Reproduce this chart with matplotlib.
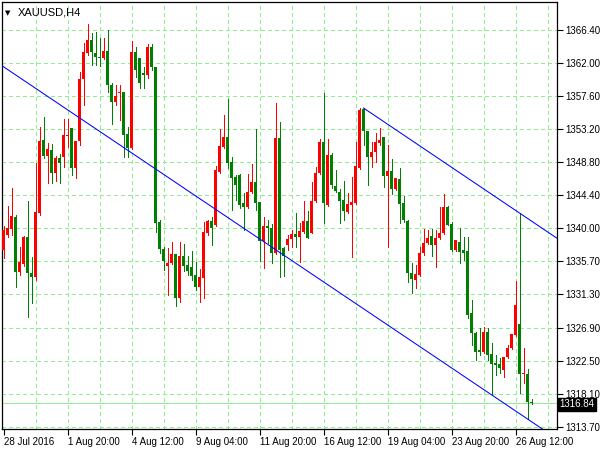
import numpy as np
import matplotlib
matplotlib.use("Agg")
import matplotlib.pyplot as plt
import matplotlib.transforms as mtransforms

symbol = "XAUUSD,H4"

# H4 candles, oldest first
opens = [1337.18, 1339.17, 1339.96, 1341.56, 1334.25, 1335.31, 1338.90, 1334.12, 1333.59, 1342.09,
         1351.79, 1349.66, 1350.46, 1347.40, 1349.40, 1349.53, 1352.32, 1353.38, 1348.07, 1351.65,
         1359.89, 1363.34, 1365.07, 1363.34, 1362.81, 1362.68, 1363.61, 1359.09, 1356.84, 1358.03,
         1358.16, 1352.58, 1350.72, 1363.48, 1362.68, 1360.69, 1360.42, 1364.14, 1361.48, 1340.89,
         1337.31, 1335.05, 1335.45, 1336.64, 1330.80, 1336.38, 1335.18, 1334.92, 1333.85, 1332.26,
         1333.46, 1339.43, 1341.02, 1340.48, 1347.54, 1350.86, 1352.19, 1348.86, 1346.87, 1347.14,
         1343.42, 1342.87, 1344.88, 1346.21, 1343.55, 1338.37, 1340.36, 1340.09, 1336.78, 1352.05,
         1337.44, 1337.84, 1338.63, 1339.30, 1338.90, 1339.56, 1341.02, 1339.43, 1343.68, 1347.40,
         1351.52, 1343.15, 1349.79, 1345.68, 1344.88, 1343.82, 1342.22, 1343.15, 1343.42, 1348.07,
         1355.90, 1352.98, 1349.53, 1350.19, 1351.39, 1352.19, 1347.00, 1347.67, 1345.28, 1346.61,
         1343.42, 1341.02, 1334.12, 1333.19, 1333.85, 1336.78, 1338.10, 1339.03, 1337.84, 1338.76,
         1339.43, 1342.87, 1340.63, 1337.18, 1338.23, 1337.18, 1337.04, 1328.81, 1326.15, 1323.89,
         1323.63, 1326.28, 1323.36, 1322.16, 1322.03, 1321.23, 1322.96, 1324.16, 1325.88, 1327.35,
         1320.70, 1320.70, 1316.98]
highs = [1340.36, 1343.02, 1345.41, 1341.82, 1337.57, 1339.03, 1343.68, 1336.24, 1348.73, 1353.51,
         1354.84, 1351.39, 1351.25, 1349.66, 1349.93, 1354.58, 1354.58, 1353.38, 1351.65, 1360.82,
         1364.67, 1367.20, 1366.00, 1366.13, 1365.34, 1365.34, 1366.40, 1359.36, 1359.09, 1359.09,
         1358.16, 1353.51, 1364.94, 1364.14, 1362.68, 1361.48, 1364.54, 1364.54, 1361.48, 1341.16,
         1337.57, 1337.44, 1338.23, 1336.64, 1338.23, 1337.97, 1336.38, 1337.04, 1335.58, 1334.65,
         1340.89, 1341.16, 1341.56, 1348.33, 1353.25, 1355.11, 1357.23, 1349.53, 1347.14, 1347.27,
         1344.75, 1347.27, 1348.60, 1353.25, 1343.55, 1341.56, 1341.16, 1340.63, 1356.70, 1354.18,
         1337.57, 1339.17, 1339.83, 1342.09, 1340.75, 1343.68, 1342.35, 1346.21, 1348.20, 1351.92,
         1358.03, 1351.92, 1350.06, 1347.80, 1345.28, 1346.34, 1344.75, 1346.87, 1351.52, 1356.04,
         1356.04, 1352.98, 1351.52, 1352.72, 1353.38, 1352.19, 1351.12, 1349.26, 1346.74, 1348.07,
         1344.35, 1341.16, 1335.45, 1335.18, 1337.57, 1339.96, 1339.83, 1339.96, 1339.83, 1342.87,
         1344.61, 1343.02, 1340.89, 1338.50, 1340.09, 1338.90, 1338.90, 1330.53, 1326.28, 1326.81,
         1326.95, 1326.81, 1324.82, 1323.23, 1322.83, 1322.96, 1324.55, 1326.00, 1333.06, 1342.09,
         1324.16, 1321.37, 1317.38]
lows = [1336.11, 1338.90, 1339.17, 1332.26, 1333.85, 1335.05, 1328.28, 1330.14, 1333.19, 1341.82,
        1349.40, 1346.08, 1346.08, 1346.34, 1346.08, 1348.20, 1350.86, 1347.14, 1346.74, 1351.12,
        1356.44, 1363.08, 1361.75, 1361.75, 1361.62, 1362.55, 1358.16, 1353.91, 1356.44, 1354.44,
        1349.53, 1349.53, 1350.59, 1360.16, 1358.70, 1358.70, 1360.02, 1361.09, 1339.56, 1336.78,
        1334.52, 1331.20, 1335.31, 1329.74, 1330.27, 1334.39, 1333.85, 1333.19, 1331.86, 1330.27,
        1330.80, 1339.17, 1337.84, 1340.36, 1347.40, 1350.72, 1348.07, 1342.49, 1343.82, 1342.75,
        1339.83, 1342.75, 1344.75, 1342.49, 1335.71, 1334.78, 1338.10, 1335.45, 1336.64, 1333.59,
        1333.72, 1337.18, 1337.57, 1337.57, 1335.58, 1339.43, 1338.76, 1339.43, 1343.55, 1347.27,
        1340.75, 1343.02, 1345.41, 1344.88, 1340.75, 1341.16, 1342.09, 1336.24, 1343.28, 1347.93,
        1351.12, 1345.81, 1348.20, 1348.86, 1351.12, 1345.54, 1337.57, 1344.61, 1345.15, 1340.75,
        1340.89, 1332.92, 1331.46, 1332.12, 1333.72, 1336.51, 1337.97, 1336.38, 1334.92, 1338.63,
        1339.30, 1340.48, 1337.04, 1337.04, 1335.45, 1335.85, 1328.14, 1324.55, 1322.56, 1323.23,
        1323.49, 1322.56, 1317.91, 1320.57, 1320.84, 1320.30, 1322.83, 1324.03, 1325.75, 1318.18,
        1319.51, 1314.73, 1316.72]
closes = [1339.83, 1340.09, 1341.68, 1334.25, 1335.58, 1338.90, 1334.12, 1333.59, 1342.22, 1351.65,
          1349.66, 1350.59, 1347.40, 1349.40, 1348.73, 1352.45, 1352.45, 1348.07, 1351.65, 1359.89,
          1363.48, 1365.07, 1363.48, 1362.81, 1362.68, 1363.61, 1359.09, 1356.84, 1357.63, 1358.16,
          1352.45, 1350.72, 1363.48, 1361.09, 1359.36, 1360.42, 1364.14, 1361.48, 1340.75, 1337.31,
          1335.71, 1335.45, 1336.64, 1330.80, 1336.38, 1335.05, 1334.39, 1333.72, 1332.26, 1333.59,
          1339.56, 1341.02, 1340.09, 1347.80, 1350.99, 1352.19, 1348.73, 1346.74, 1345.81, 1343.15,
          1342.87, 1344.88, 1346.21, 1343.42, 1338.37, 1340.36, 1340.09, 1336.78, 1352.05, 1337.18,
          1336.38, 1338.63, 1339.30, 1338.90, 1339.70, 1341.02, 1338.76, 1343.68, 1347.40, 1351.52,
          1343.42, 1349.79, 1345.81, 1345.01, 1343.68, 1342.35, 1343.28, 1343.55, 1348.33, 1355.77,
          1352.98, 1349.53, 1350.19, 1351.52, 1351.79, 1347.00, 1347.67, 1345.28, 1346.74, 1343.28,
          1341.16, 1334.12, 1333.32, 1333.99, 1336.78, 1338.10, 1338.76, 1337.84, 1338.76, 1339.43,
          1342.87, 1340.48, 1337.18, 1338.50, 1336.91, 1336.78, 1328.55, 1326.15, 1323.63, 1323.63,
          1326.28, 1323.23, 1322.03, 1321.90, 1321.50, 1322.96, 1324.16, 1326.00, 1329.87, 1320.70,
          1320.84, 1316.98, 1316.84]

last_price = 1316.84

price_labels = ["1366.40", "1362.00", "1357.60", "1353.20", "1348.80", "1344.40", "1340.00",
                "1335.70", "1331.30", "1326.90", "1322.50", "1318.10", "1313.70"]
date_labels = ["28 Jul 2016", "1 Aug 20:00", "4 Aug 12:00", "9 Aug 04:00", "11 Aug 20:00",
               "16 Aug 12:00", "19 Aug 04:00", "23 Aug 20:00", "26 Aug 12:00"]

# trend channel anchors: (bar index, price)
lower_line = [(0, 1361.52), (131, 1314.73)]
upper_line = [(90, 1356.04), (129, 1342.09)]

grid_col = "#90EE90"
px = 0.72  # one pixel at 100 dpi

fig = plt.figure(figsize=(6, 4.5), dpi=100)
ax = fig.add_axes([2 / 600, 21 / 450, 555 / 600, 427 / 450])

o = np.array(opens)
h = np.array(highs)
l = np.array(lows)
c = np.array(closes)
x = np.arange(len(o))
cols = np.where(c >= o, "#FF0000", "#008000")

# grid
ypos = np.linspace(float(price_labels[0]), float(price_labels[-1]), len(price_labels))
for yv in ypos:
    ax.axhline(yv, color=grid_col, lw=px, ls=(0, (4, 4)), zorder=1, antialiased=False)
for xv in range(8, 139, 8):
    ax.axvline(xv, color=grid_col, lw=px, ls=(0, (4, 4)), zorder=1, antialiased=False)

# last price line
ax.axhline(last_price, color=grid_col, lw=px, zorder=2, antialiased=False)

# candles
ax.vlines(x, l, h, colors=cols, lw=px, zorder=3, antialiased=False)
body_lo = np.minimum(o, c)
body_h = np.maximum(np.abs(c - o), 0.13)
ax.bar(x, body_h, 0.75, bottom=body_lo, color=cols, lw=0, zorder=4)

# channel lines
ax.axline(lower_line[0], lower_line[1], color="#0000FF", lw=0.75, zorder=5)
slope = (upper_line[1][1] - upper_line[0][1]) / (upper_line[1][0] - upper_line[0][0])
ux = np.array([upper_line[0][0], 145])
ax.plot(ux, upper_line[0][1] + slope * (ux - upper_line[0][0]), color="#0000FF", lw=0.75,
        zorder=5)

# 4 px per bar, bar centres on pixel centres
ax.set_xlim(-0.375, 138.375)
ax.set_ylim(1313.40, 1370.12)

# axes look
for s in ax.spines.values():
    s.set_color("black")
    s.set_linewidth(0.9)
ax.yaxis.tick_right()
ax.set_yticks(ypos)
ax.set_yticklabels(price_labels)
ax.tick_params(axis="y", direction="out", length=4, width=0.8, pad=2, labelsize=7)
ax.set_xticks(np.arange(0, len(o), 16))
ax.set_xticklabels(date_labels)
ax.tick_params(axis="x", direction="out", length=4, width=0.8, pad=2, labelsize=7)
for lbl in ax.get_xticklabels():
    lbl.set_horizontalalignment("left")
for lbl in ax.get_xticklabels() + ax.get_yticklabels():
    lbl.set_family("Liberation Sans")

trans = mtransforms.blended_transform_factory(ax.transAxes, ax.transData)
ax.text(1.004, last_price - 0.15, "%.2f" % last_price, transform=trans, ha="left", va="center",
        color="white", fontsize=7, family="Liberation Sans",
        bbox=dict(boxstyle="square,pad=0.15", fc="black", ec="black"), zorder=10)

ax.text(0.006, 0.982, "\u25bc", transform=ax.transAxes, ha="left", va="top", fontsize=5)
ax.text(0.029, 0.988, symbol, transform=ax.transAxes, ha="left", va="top", fontsize=8,
        family="Liberation Sans")

fig.savefig("out.png", dpi=100)
